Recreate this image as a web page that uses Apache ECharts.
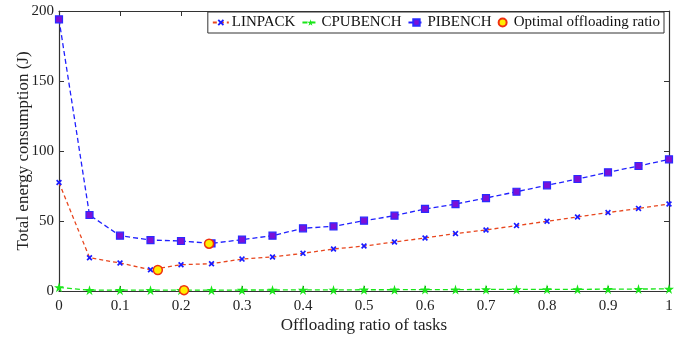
<!DOCTYPE html>
<html>
<head>
<meta charset="utf-8">
<script src="https://cdn.jsdelivr.net/npm/echarts@6/dist/echarts.min.js"></script>
<style>
  html, body { margin: 0; padding: 0; background: #fff; }
  #chart { width: 683px; height: 338px; }
</style>
</head>
<body>
<div id="chart"></div>
<script>
// offloading ratios (x)
const ratios = [0, 0.05, 0.1, 0.15, 0.2, 0.25, 0.3, 0.35, 0.4, 0.45, 0.5,
  0.55, 0.6, 0.65, 0.7, 0.75, 0.8, 0.85, 0.9, 0.95, 1];
// energy (J)
const linpack = [77.5, 23.8, 20, 15.2, 18.8, 19.5, 22.8, 24.3, 26.9, 30, 32.1,
  35, 37.9, 41, 43.6, 46.7, 49.8, 52.9, 56, 59, 62.1];
const cpubench = [2.6, 0.6, 0.6, 0.6, 0.6, 0.6, 0.7, 0.7, 0.8, 0.8, 0.9,
  0.9, 1, 1, 1.1, 1.1, 1.2, 1.2, 1.3, 1.4, 1.5];
const pibench = [194, 54.3, 39.5, 36.4, 35.7, 34, 36.7, 39.5, 44.8, 46.2, 50.2,
  53.8, 58.6, 62.1, 66.4, 70.9, 75.5, 80, 84.8, 89.3, 94];
// optimal offloading ratio points
const optX = [0.162, 0.205, 0.246];
const optY = [15, 0.6, 33.8];

const font = "Liberation Serif";
const axisColor = "#333";
const crossPath = "path://M2,0L5,3L8,0L10,2L7,5L10,8L8,10L5,7L2,10L0,8L3,5L0,2Z";
const starPath = "path://M50,0L61,35L98,35L68,57L79,91L50,70L21,91L32,57L2,35L39,35Z";

function pairs(xs, ys) {
  return xs.map((x, i) => [x, ys[i]]);
}

const chart = echarts.init(document.getElementById("chart"));

const baseX = {
  type: "value",
  min: 0,
  max: 1,
  interval: 0.1,
  axisLine: { show: true, onZero: false, lineStyle: { color: axisColor, width: 1.2 } },
  axisTick: { show: true, inside: true, length: 5, lineStyle: { color: axisColor } },
  splitLine: { show: false },
};
const baseY = {
  type: "value",
  min: 0,
  max: 200,
  interval: 50,
  axisLine: { show: true, onZero: false, lineStyle: { color: axisColor, width: 1.2 } },
  axisTick: { show: true, inside: true, length: 5, lineStyle: { color: axisColor } },
  splitLine: { show: false },
};

const option = {
  backgroundColor: "#fff",
  animation: false,
  textStyle: { fontFamily: font },
  grid: { left: 59, right: 14, top: 11, bottom: 47, containLabel: false, outerBoundsMode: "none" },
  legend: {
    top: 12,
    right: 19,
    orient: "horizontal",
    backgroundColor: "#fff",
    borderColor: "#333",
    borderWidth: 1,
    borderRadius: 0,
    padding: [3, 4, 3, 4],
    itemGap: 6,
    itemWidth: 16,
    itemHeight: 8,
    textStyle: { fontFamily: font, fontSize: 15, color: "#111", padding: [0, 0, 0, -2] },
    data: ["LINPACK", "CPUBENCH", "PIBENCH", "Optimal offloading ratio"],
  },
  xAxis: [
    Object.assign({}, baseX, {
      position: "bottom",
      name: "Offloading ratio of tasks",
      nameLocation: "middle",
      nameGap: 26,
      nameMoveOverlap: false,
      nameTextStyle: { fontFamily: font, fontSize: 17, color: "#222" },
      axisLabel: {
        fontFamily: font, fontSize: 15, color: "#222", margin: 8,
        formatter: v => String(Math.round(v * 10) / 10),
      },
    }),
    Object.assign({}, baseX, { position: "top", axisLabel: { show: false } }),
  ],
  yAxis: [
    Object.assign({}, baseY, {
      position: "left",
      name: "Total energy consumption (J)",
      nameLocation: "middle",
      nameGap: 27,
      nameMoveOverlap: false,
      nameTextStyle: { fontFamily: font, fontSize: 17, color: "#222" },
      axisLabel: { fontFamily: font, fontSize: 15, color: "#222", margin: 5 },
    }),
    Object.assign({}, baseY, { position: "right", axisLabel: { show: false } }),
  ],
  series: [
    {
      name: "LINPACK",
      type: "line",
      data: pairs(ratios, linpack),
      symbol: crossPath,
      symbolSize: 6,
      itemStyle: { color: "#1a1aff" },
      lineStyle: { color: "#e8461e", type: [4, 3], width: 1.3 },
      z: 3,
    },
    {
      name: "CPUBENCH",
      type: "line",
      data: pairs(ratios, cpubench),
      symbol: starPath,
      symbolSize: 10,
      itemStyle: { color: "#19e619" },
      lineStyle: { color: "#19e619", type: [5, 3], width: 1.3 },
      z: 3,
    },
    {
      name: "PIBENCH",
      type: "line",
      data: pairs(ratios, pibench),
      symbol: "rect",
      symbolSize: 7,
      itemStyle: { color: "#7a10d8", borderColor: "#2a2aff", borderWidth: 1.2 },
      lineStyle: { color: "#2020ff", type: [5, 3], width: 1.3 },
      z: 3,
    },
    {
      name: "Optimal offloading ratio",
      type: "scatter",
      data: pairs(optX, optY),
      symbol: "circle",
      symbolSize: 9,
      itemStyle: { color: "#ffee00", borderColor: "#f03010", borderWidth: 1.5, opacity: 1 },
      z: 5,
    },
  ],
};

chart.setOption(option);
</script>
</body>
</html>
